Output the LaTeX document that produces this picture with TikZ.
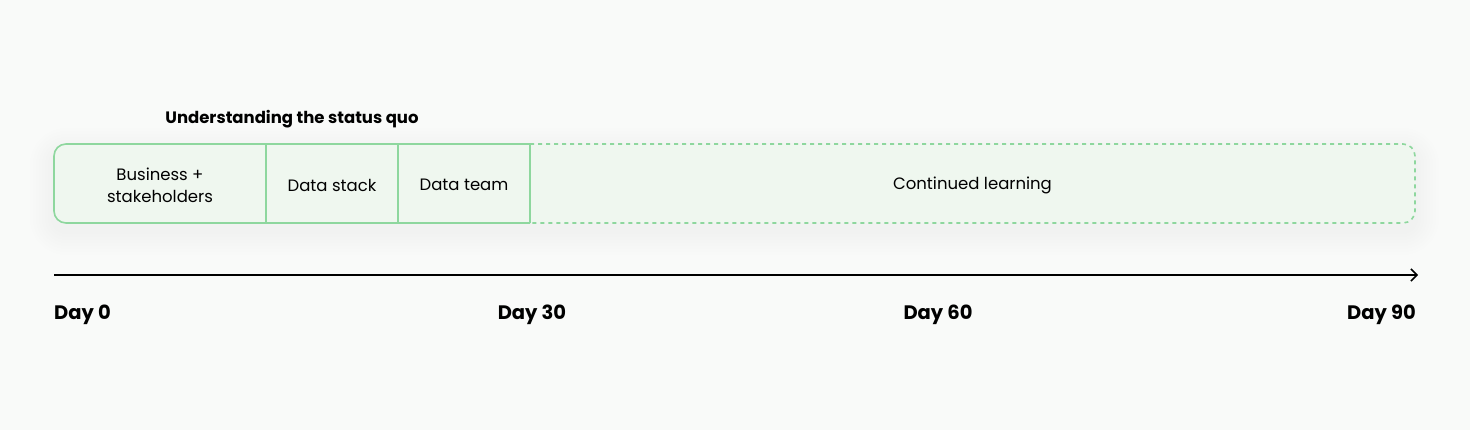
\documentclass[tikz,border=0pt]{standalone}
\usepackage{fontspec}
\setmainfont{Poppins}
\usepackage{tikz}
\usetikzlibrary{calc,arrows.meta}
\definecolor{bg}{HTML}{F9FAF9}
\definecolor{cellfill}{HTML}{EFF7EF}
\definecolor{cellline}{HTML}{8ED79E}
\tikzstyle{cell}=[inner sep=0pt, minimum height=79pt, align=center, font=\fontsize{16.5}{22}\selectfont]
\tikzstyle{day}=[inner sep=0pt, font=\fontsize{19.5}{22}\selectfont\bfseries]
\begin{document}
\begin{tikzpicture}[x=1pt,y=-1pt]
\fill[bg] (0,0) rectangle (1470,430);
\useasboundingbox (0,0) rectangle (1470,430);
% soft shadow
\foreach \s in {24,21,...,3} {
	\fill[black, opacity=0.005, rounded corners=12+\s] (54-\s,144-\s+8) rectangle (1415+\s,223+\s+8);
}
\fill[cellfill, rounded corners=12] (54,144) rectangle (1415,223);
\node[cell, minimum width=212pt] (biz) at (160,185) {Business +\\stakeholders};
\node[cell, minimum width=132pt] (stack) at (332,185) {Data stack};
\node[cell, minimum width=132pt] (team) at (464,185) {Data team};
\node[cell, minimum width=885pt] (learn) at (972.5,185) {Continued learning};
\draw[cellline, line width=1.6pt, rounded corners=12] (530,144) -- (54,144) -- (54,223) -- (530,223);
\draw[cellline, line width=1.6pt, dash pattern=on 4pt off 4pt, rounded corners=12] (530,144) -- (1415,144) -- (1415,223) -- (530,223);
\foreach \a in {biz,stack,team} {
	\draw[cellline, line width=1.6pt] (\a.east |- 0,144) -- (\a.east |- 0,223);
}
\node[inner sep=0pt, font=\fontsize{16.5}{20}\selectfont\bfseries] (title) at (292,119) {Understanding the status quo};
% time axis
\coordinate (t0) at (54,275);
\coordinate (t90) at (1418,275);
\draw[line width=1.6pt, -{Straight Barb[length=6pt,width=12pt]}] (t0) -- (t90);
\node[day, anchor=west] (d0) at (54,314.5) {Day 0};
\node[day] (d30) at (532,314.5) {Day 30};
\node[day] (d60) at (938,314.5) {Day 60};
\node[day, anchor=east] (d90) at (1416,314.5) {Day 90};
\end{tikzpicture}
\end{document}
